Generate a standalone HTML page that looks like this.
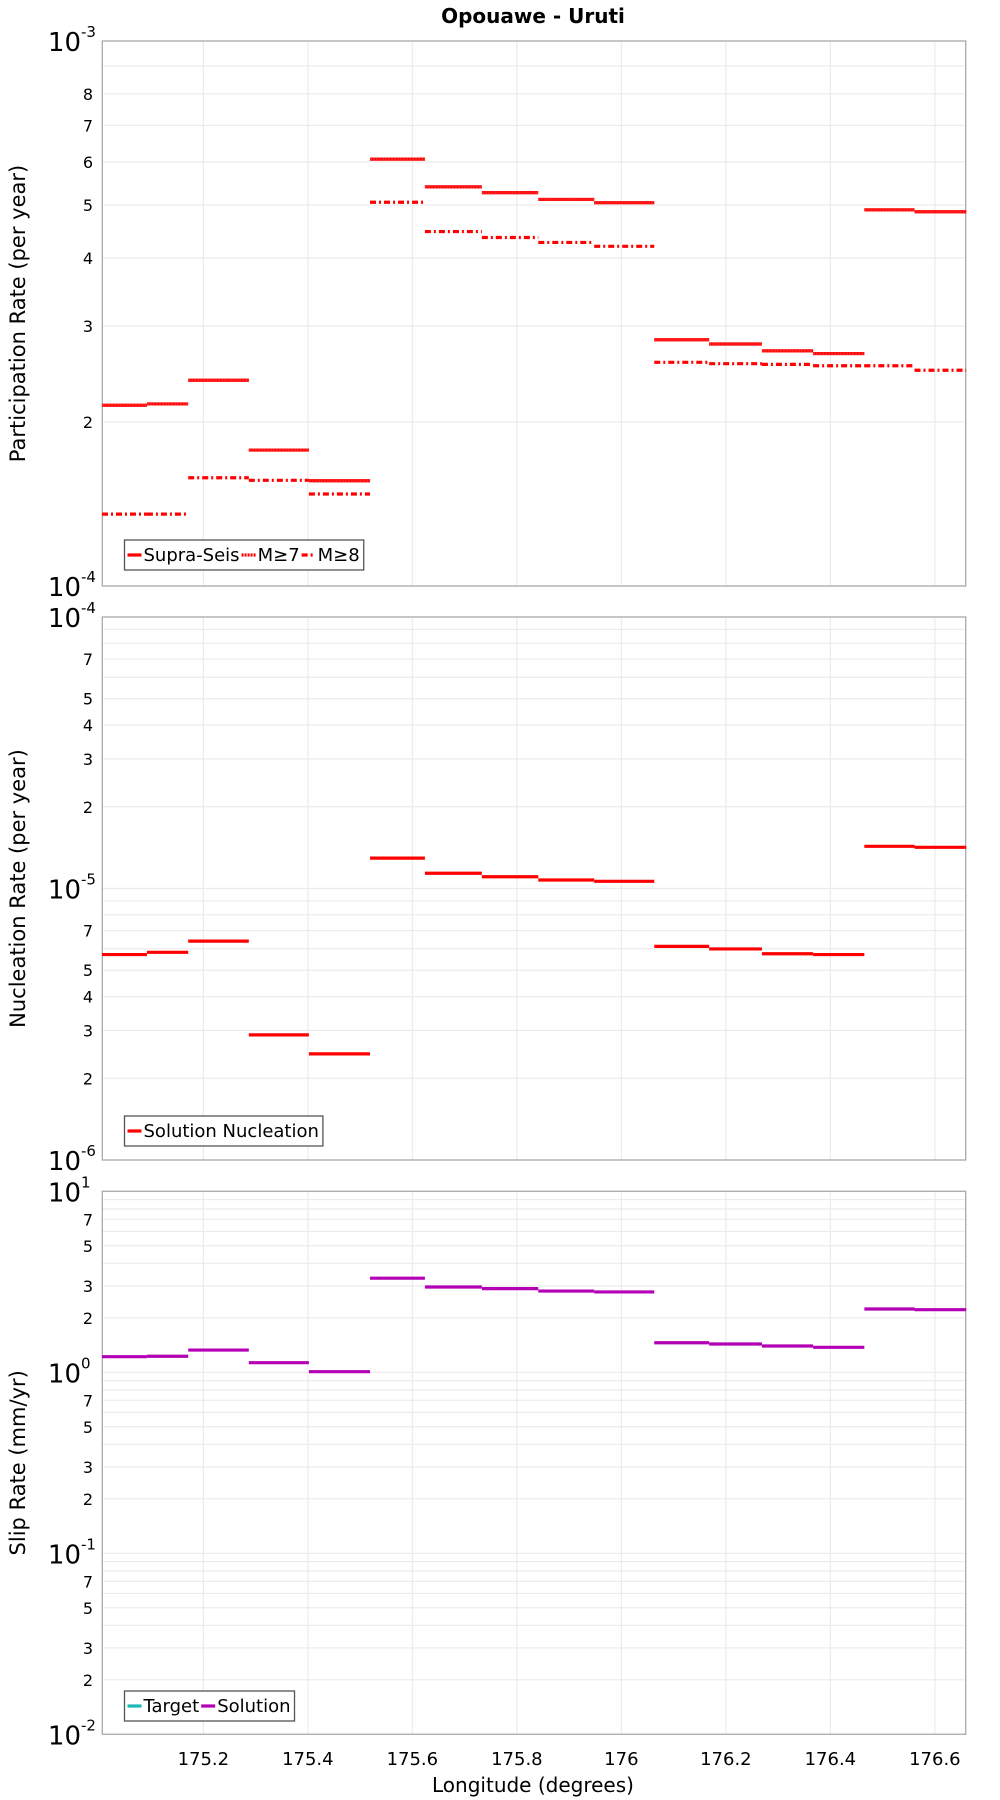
<!DOCTYPE html>
<html><head><meta charset="utf-8"><style>
body{margin:0;background:#fff;}
svg{display:block;font-family:"DejaVu Sans","Liberation Sans",sans-serif;}
</style></head>
<body>
<svg id="chart" width="1000" height="1800" viewBox="0 0 1000 1800" xmlns="http://www.w3.org/2000/svg">
<text x="533" y="23" text-anchor="middle" font-size="20" font-weight="bold">Opouawe - Uruti</text>
<text x="533" y="1792" text-anchor="middle" font-size="20">Longitude (degrees)</text>
</svg>
<script>
const bounds = [175.006,175.092,175.171,175.287,175.402,175.519,175.624,175.733,175.841,175.948,176.063,176.168,176.269,176.367,176.465,176.561,176.660];
const supraSeis = [2.146e-4,2.158e-4,2.385e-4,1.776e-4,1.560e-4,6.07e-4,5.40e-4,5.27e-4,5.12e-4,5.05e-4,2.83e-4,2.78e-4,2.70e-4,2.67e-4,4.90e-4,4.86e-4];
const m7 = [2.146e-4,2.158e-4,2.385e-4,1.776e-4,1.560e-4,6.07e-4,5.40e-4,5.27e-4,5.12e-4,5.05e-4,2.83e-4,2.78e-4,2.70e-4,2.67e-4,4.90e-4,4.86e-4];
const m8 = [1.355e-4,1.355e-4,1.580e-4,1.563e-4,1.475e-4,5.06e-4,4.47e-4,4.36e-4,4.27e-4,4.20e-4,2.573e-4,2.558e-4,2.551e-4,2.536e-4,2.536e-4,2.488e-4];
const nucleation = [5.71e-6,5.82e-6,6.40e-6,2.89e-6,2.46e-6,1.294e-5,1.138e-5,1.105e-5,1.075e-5,1.063e-5,6.12e-6,5.99e-6,5.75e-6,5.71e-6,1.43e-5,1.418e-5];
const slipSolution = [1.22,1.226,1.327,1.130,1.008,3.31,2.96,2.90,2.81,2.78,1.457,1.433,1.397,1.374,2.238,2.218];
const xTicks = [175.2,175.4,175.6,175.8,176,176.2,176.4,176.6];
const xTickLabels = ["175.2","175.4","175.6","175.8","176","176.2","176.4","176.6"];

const NS="http://www.w3.org/2000/svg";
const svg=document.getElementById('chart');
const L=102.3,R=965.7,XMIN=175.0066,XMAX=176.659;
function xs(v){return L+(v-XMIN)/(XMAX-XMIN)*(R-L);}
function mk(tag,attrs,parent){const e=document.createElementNS(NS,tag);for(const k in attrs)e.setAttribute(k,attrs[k]);(parent||svg).appendChild(e);return e;}

const panels=[
 {top:41,bot:586,lo:-4,hi:-3,title:"Participation Rate (per year)",minorLabels:[2,3,4,5,6,7,8],name:"participation"},
 {top:617,bot:1160,lo:-6,hi:-4,title:"Nucleation Rate (per year)",minorLabels:[2,3,4,5,7],name:"nucleation"},
 {top:1191.3,bot:1734.3,lo:-2,hi:1,title:"Slip Rate (mm/yr)",minorLabels:[2,3,5,7],name:"slip-rate"}
];
function ysFor(p){return v=>p.bot-(Math.log10(v)-p.lo)/(p.hi-p.lo)*(p.bot-p.top);}

panels.forEach((p,pi)=>{
  const ys=ysFor(p);
  const g=mk('g',{});
  
  
  for(let d=p.lo;d<=p.hi;d++){
    for(let m=1;m<=9;m++){
      const v=m*Math.pow(10,d);
      if(Math.log10(v)>p.hi+1e-9)break;
      const y=ys(v);
      const gl=mk('line',{x1:L,x2:R,y1:y,y2:y,stroke:'#ebebeb','stroke-width':1.2},g);
      
      
      if(m===1){
        const t=mk('text',{x:81,y:y+10,'text-anchor':'end','font-size':26},g);
        
        
        t.textContent='10';
        const s=mk('text',{x:81,y:y-4,'font-size':15},g);
        
        
        s.textContent=String(d);
      }else if(p.minorLabels.indexOf(m)>=0){
        const t=mk('text',{x:93,y:y+6,'text-anchor':'end','font-size':16},g);
        
        
        t.textContent=String(m);
      }
    }
  }
  xTicks.forEach((v,i)=>{
    const x=xs(v);
    const vl=mk('line',{x1:x,x2:x,y1:p.top,y2:p.bot,stroke:'#ebebeb','stroke-width':1.2},g);
    
    
    if(pi===2){
      const t=mk('text',{x:x,y:1765,'text-anchor':'middle','font-size':18},g);
      
      
      t.textContent=xTickLabels[i];
    }
  });
  const fr=mk('rect',{x:L,y:p.top,width:R-L,height:p.bot-p.top,fill:'none',stroke:'#aaa','stroke-width':1.3},g);
  
  
  const cy=(p.top+p.bot)/2;
  const at=mk('text',{x:0,y:0,'text-anchor':'middle','font-size':21,transform:`translate(25,${cy}) rotate(-90)`},g);
  
  
  at.textContent=p.title;
  p.g=g;p.ys=ys;
});

function drawSeries(p,vals,color,dash,name){
  for(let i=0;i<vals.length;i++){
    const y=p.ys(vals[i]);
    const a={x1:xs(bounds[i]),x2:xs(bounds[i+1]),y1:y,y2:y,stroke:color,'stroke-width':3.2};
    if(dash)a['stroke-dasharray']=dash;
    const ln=mk('line',a,p.g);
    
    
  }
}
drawSeries(panels[0],supraSeis,'#ff0000',null,'supra-seis');
drawSeries(panels[0],m7,'#ff2020','2 1','m7');
drawSeries(panels[0],m8,'#ff0000','6 3 2 3','m8');
drawSeries(panels[1],nucleation,'#ff0000',null,'solution-nucleation');
drawSeries(panels[2],slipSolution,'#b400b4',null,'slip-solution');

function legend(p,x,y,entries){
  const g=mk('g',{},p.g);
  
  
  const box=mk('rect',{x:x,y:y,width:10,height:30,fill:'#fff',stroke:'#555','stroke-width':1.3},g);
  let cx=x+3;
  entries.forEach(en=>{
    const a={x1:cx,x2:cx+14,y1:y+15,y2:y+15,stroke:en.c,'stroke-width':3.2};
    if(en.d)a['stroke-dasharray']=en.d;
    const l=mk('line',a,g);
    
    
    const t=mk('text',{x:cx+16,y:y+21,'font-size':18},g);
    
    
    t.textContent=en.t;
    let w=0;try{w=t.getComputedTextLength();}catch(e){w=en.t.length*10;}
    cx=cx+16+w+2;
  });
  box.setAttribute('width',cx-x+2);
}
legend(panels[0],124.5,540,[{c:'#f00',t:'Supra-Seis'},{c:'#f00',d:'2 1',t:'M≥7'},{c:'#f00',d:'6 3 2 3',t:'M≥8'}]);
legend(panels[1],124.5,1116,[{c:'#f00',t:'Solution Nucleation'}]);
legend(panels[2],124.5,1691,[{c:'#1bb8b8',t:'Target'},{c:'#b400b4',t:'Solution'}]);
</script>
</body></html>
